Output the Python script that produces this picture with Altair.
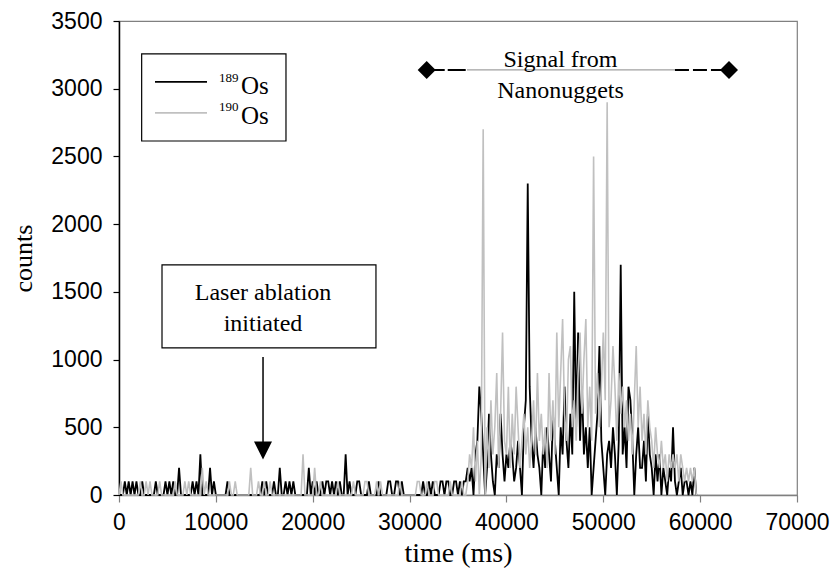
import altair as alt
import pandas as pd

# ---------------- data (counts in units of 100, one sample every SAMPLE_MS) -------------
SAMPLE_MS = 200

# 189Os, 0 - 35800 ms (background before nanonugget signal)
OS189_BG = [
    0, 0, 0, 1, 0, 1, 0, 1, 0, 1, 0, 0, 1, 0, 0, 0, 0, 0, 0, 1,
    0, 0, 0, 0, 1, 0, 1, 0, 1, 0, 0, 2, 0, 0, 0, 0, 0, 0, 1, 0,
    1, 0, 3, 0, 0, 0, 0, 2, 0, 1, 0, 0, 0, 0, 0, 0, 1, 0, 0, 0,
    0, 0, 0, 0, 0, 0, 0, 0, 0, 0, 0, 0, 0, 0, 1, 0, 1, 0, 0, 0,
    1, 0, 0, 2, 0, 0, 1, 0, 1, 0, 1, 0, 0, 0, 0, 0, 0, 0, 2, 0,
    1, 0, 1, 0, 0, 1, 0, 1, 1, 0, 1, 0, 1, 0, 1, 0, 0, 3, 0, 1,
    0, 0, 0, 1, 1, 0, 0, 0, 0, 1, 0, 0, 0, 0, 1, 0, 0, 0, 0, 1,
    1, 0, 0, 1, 1, 0, 1, 0, 0, 0, 0, 0, 0, 0, 0, 0, 0, 1, 0, 0,
    1, 0, 1, 0, 0, 0, 1, 1, 0, 1, 1, 0, 0, 1, 1, 0, 1, 0, 1, 1,
]
# 189Os, 36000 - 59600 ms (signal)
OS189_SIG = [
    2, 1, 2, 0, 3, 4, 8, 6, 3, 0,
    2, 6, 3, 1, 0, 3, 2, 6, 3, 1,
    3, 2, 4, 3, 1, 2, 4, 2, 0, 5,
    7, 23, 8, 4, 2, 5, 3, 2, 0, 4,
    2, 5, 3, 1, 6, 4, 2, 0, 5, 3,
    8, 4, 2, 6, 3, 15, 5, 12, 4, 8,
    3, 5, 2, 5, 0, 2, 4, 6, 11, 4,
    2, 0, 3, 4, 2, 5, 3, 0, 4, 17,
    3, 5, 2, 8, 7, 4, 0, 3, 5, 2,
    2, 4, 1, 6, 3, 2, 0, 3, 1, 3,
    0, 2, 1, 0, 2, 1, 5, 1, 0, 1,
    2, 0, 1, 1, 0, 1, 0, 2, 0,
]
# 190Os, 0 - 35800 ms
OS190_BG = [
    0, 1, 0, 0, 0, 0, 0, 0, 0, 0, 0, 1, 0, 0, 1, 0, 1, 0, 0, 0,
    0, 1, 0, 0, 0, 0, 0, 0, 0, 1, 0, 0, 0, 0, 1, 0, 1, 0, 0, 0,
    0, 0, 0, 2, 0, 1, 0, 0, 0, 0, 0, 0, 0, 0, 0, 0, 0, 1, 0, 0,
    1, 0, 0, 0, 0, 0, 0, 0, 2, 0, 0, 0, 1, 0, 0, 1, 0, 0, 1, 0,
    0, 0, 0, 0, 0, 0, 0, 0, 0, 0, 0, 0, 0, 0, 0, 3, 0, 0, 0, 0,
    0, 2, 0, 0, 1, 0, 0, 0, 0, 0, 0, 0, 0, 1, 0, 0, 0, 0, 0, 0,
    0, 1, 0, 0, 0, 0, 0, 1, 1, 0, 0, 0, 0, 1, 0, 1, 0, 0, 0, 0,
    0, 0, 0, 0, 0, 1, 0, 0, 0, 0, 0, 0, 0, 0, 1, 1, 0, 0, 0, 1,
    0, 0, 0, 1, 1, 0, 0, 0, 0, 0, 0, 1, 0, 0, 0, 0, 0, 1, 0, 0,
]
# 190Os, 36000 - 59600 ms
OS190_SIG = [
    1, 3, 2, 5, 1, 4, 0, 3, 27, 0,
    5, 2, 7, 3, 5, 9, 2, 6, 12, 4,
    3, 8, 2, 6, 3, 8, 5, 2, 4, 6,
    3, 5, 2, 4, 7, 3, 9, 4, 6, 3,
    5, 2, 9, 4, 7, 3, 12, 5, 9, 13,
    6, 4, 10, 11, 5, 7, 4, 9, 12, 6,
    10, 13, 5, 8, 4, 25, 6, 9, 5, 8,
    12, 7, 29, 5, 7, 11, 8, 4, 9, 6,
    8, 5, 7, 4, 6, 3, 7, 11, 5, 8,
    4, 6, 3, 7, 5, 4, 2, 5, 3, 2,
    4, 2, 3, 1, 3, 2, 3, 2, 3, 1,
    3, 2, 1, 2, 1, 2, 1, 2, 0,
]

X_TICKS = [0, 10000, 20000, 30000, 40000, 50000, 60000, 70000]
Y_TICKS = [0, 500, 1000, 1500, 2000, 2500, 3000, 3500]

# annotation texts (positions in data units)
ANNOT_TEXT = ["Laser ablation", "initiated", "Signal from", "Nanonuggets"]
ANNOT_X = [14870, 14870, 45580, 45580]
ANNOT_Y = [1440, 1211, 3161, 2934]

# legend
LEG_ISOTOPE = ["189", "190"]
LEG_LINE_Y = [3050, 2821]
LEG_SUP_Y = [3050, 2836]
LEG_OS_Y = [2962, 2740]
LEG_COLORS = ["black", "#c0c0c0"]

# ---------------- tables ----------------
os189 = OS189_BG + OS189_SIG
os190 = OS190_BG + OS190_SIG
times189 = [i * SAMPLE_MS for i in range(len(os189))]
times190 = [i * SAMPLE_MS for i in range(len(os190))]
df189 = pd.DataFrame({"t": times189, "c": [v * 100 for v in os189]})
df190 = pd.DataFrame({"t": times190, "c": [v * 100 for v in os190]})

X_SCALE = alt.Scale(domain=[0, 70000], nice=False, zero=False)
Y_SCALE = alt.Scale(domain=[0, 3500], nice=False, zero=False)

X_AXIS = alt.Axis(
    values=X_TICKS, format="d", labelFlush=False, labelOverlap=False, grid=False,
    tickSize=7, tickColor="#808080", tickWidth=1.2, domainColor="#808080", domainWidth=1.5,
    labelFont="Liberation Sans", labelFontSize=23, labelColor="black", labelPadding=9,
    title="time (ms)", titleFont="Liberation Serif", titleFontSize=28,
    titleFontWeight="normal", titleColor="black", titleY=66, titleBaseline="alphabetic",
)
Y_AXIS = alt.Axis(
    values=Y_TICKS, format="d", grid=False, labelOverlap=False,
    tickSize=6, tickColor="black", tickWidth=1.2, domainColor="black", domainWidth=1.5,
    labelFont="Liberation Sans", labelFontSize=23, labelColor="black", labelPadding=11,
    title="counts", titleFont="Liberation Serif", titleFontSize=26,
    titleFontWeight="normal", titleColor="black", titleAngle=270,
    titleX=-88, titleY=237, titleAlign="center", titleBaseline="alphabetic",
)


def X(field):
    return alt.X(f"{field}:Q", scale=X_SCALE, axis=X_AXIS)


def Y(field):
    return alt.Y(f"{field}:Q", scale=Y_SCALE, axis=Y_AXIS)


line189 = alt.Chart(df189).mark_line(color="black", strokeWidth=1.8).encode(x=X("t"), y=Y("c"))
line190 = alt.Chart(df190).mark_line(color="#c0c0c0", strokeWidth=1.6).encode(x=X("t"), y=Y("c"))

# legend box
legbox_df = pd.DataFrame({"x1": [2340], "x2": [17240], "y1": [2614], "y2": [3257]})
legbox = alt.Chart(legbox_df).mark_rect(fill="white", stroke="black", strokeWidth=1.2).encode(
    x=X("x1"), x2="x2:Q", y=Y("y1"), y2="y2:Q")

leglines_df = pd.DataFrame({"x1": [3717, 3717], "x2": [9085, 9085], "y": LEG_LINE_Y,
                            "col": LEG_COLORS})
leglines = alt.Chart(leglines_df).mark_rule(strokeWidth=1.8).encode(
    x=X("x1"), x2="x2:Q", y=Y("y"), color=alt.Color("col:N", scale=None))

legsup_df = pd.DataFrame({"x": [10324, 10324], "y": LEG_SUP_Y, "label": LEG_ISOTOPE})
legsup = alt.Chart(legsup_df).mark_text(font="Liberation Serif", fontSize=13, align="left",
                                        baseline="alphabetic", color="black").encode(
    x=X("x"), y=Y("y"), text="label:N")
legos_df = pd.DataFrame({"x": [12596, 12596], "y": LEG_OS_Y, "label": ["Os", "Os"]})
legos = alt.Chart(legos_df).mark_text(font="Liberation Serif", fontSize=25, align="left",
                                      baseline="alphabetic", color="black").encode(
    x=X("x"), y=Y("y"), text="label:N")

# laser box and arrow
laserbox_df = pd.DataFrame({"x1": [4440], "x2": [26530], "y1": [1086], "y2": [1699]})
laserbox = alt.Chart(laserbox_df).mark_rect(fill="white", stroke="black", strokeWidth=1.2).encode(
    x=X("x1"), x2="x2:Q", y=Y("y1"), y2="y2:Q")
arrow_df = pd.DataFrame({"x": [14870], "y1": [1019], "y2": [380]})
arrow = alt.Chart(arrow_df).mark_rule(color="black", strokeWidth=1.5).encode(
    x=X("x"), y=Y("y1"), y2="y2:Q")
head_df = pd.DataFrame({"x": [14870], "y": [329]})
head = alt.Chart(head_df).mark_point(shape="M-1,-1L1,-1L0,1Z", filled=True, size=324,
                                     color="black", opacity=1).encode(x=X("x"), y=Y("y"))

# signal bracket
seg_df = pd.DataFrame({"x1": [31770], "x2": [35930], "y": [3139]})
seg_l = alt.Chart(seg_df).mark_rule(color="black", strokeWidth=2, strokeDash=[18, 3]).encode(
    x=X("x1"), x2="x2:Q", y=Y("y"))
segm_df = pd.DataFrame({"x1": [35930], "x2": [57400], "y": [3139]})
seg_m = alt.Chart(segm_df).mark_rule(color="#a0a0a0", strokeWidth=1.2).encode(
    x=X("x1"), x2="x2:Q", y=Y("y"))
segr_df = pd.DataFrame({"x1": [57400], "x2": [62980], "y": [3139]})
seg_r = alt.Chart(segr_df).mark_rule(color="black", strokeWidth=2, strokeDash=[14, 4]).encode(
    x=X("x1"), x2="x2:Q", y=Y("y"))
dia_df = pd.DataFrame({"x": [31770, 62980], "y": [3139, 3139]})
dia = alt.Chart(dia_df).mark_point(shape="diamond", filled=True, size=324, color="black",
                                   opacity=1).encode(x=X("x"), y=Y("y"))

ann_df = pd.DataFrame({"x": ANNOT_X, "y": ANNOT_Y, "label": ANNOT_TEXT})
ann = alt.Chart(ann_df).mark_text(font="Liberation Serif", fontSize=24, align="center",
                                  baseline="alphabetic", color="black").encode(
    x=X("x"), y=Y("y"), text="label:N")

chart = alt.layer(
    line189, line190, legbox, leglines, legsup, legos,
    laserbox, arrow, head, seg_l, seg_m, seg_r, dia, ann,
).properties(
    width=678, height=474,
    autosize=alt.AutoSizeParams(type="none"),
    padding={"left": 119, "top": 21, "right": 38, "bottom": 74},
    background="white",
).configure_view(stroke="#808080", strokeWidth=1.2)

chart.save("out.html", embed_options={"renderer": "svg", "actions": False})
